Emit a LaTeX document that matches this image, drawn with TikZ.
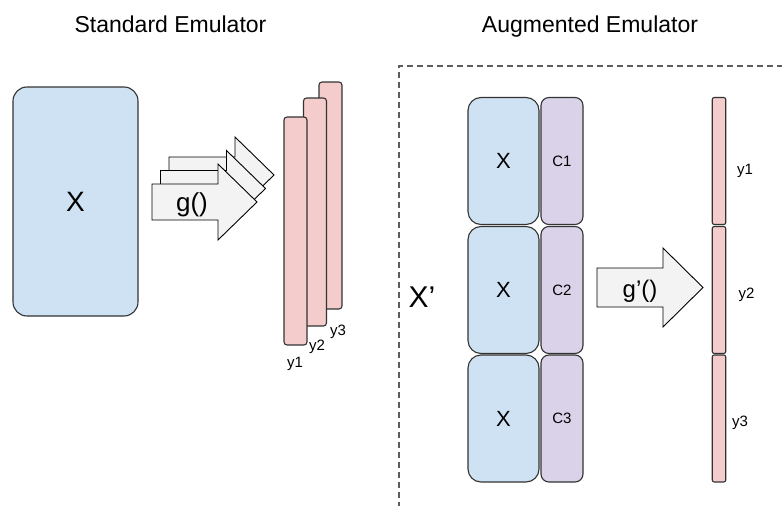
\documentclass[tikz,border=0pt]{standalone}
\usepackage{fontspec}
\setmainfont{Liberation Sans}
\definecolor{xblue}{HTML}{CFE2F3}
\definecolor{xpurple}{HTML}{D9D2E9}
\definecolor{xpink}{HTML}{F4CCCC}
\definecolor{xarrow}{HTML}{F3F3F3}
\definecolor{xline}{HTML}{333333}
\newcommand{\fs}[1]{\fontsize{#1}{#1}\selectfont}
\begin{document}
\begin{tikzpicture}[x=1pt,y=-1pt,
  every node/.style={inner sep=0pt, outer sep=0pt},
  bluebox/.style={draw=xline, fill=xblue, line width=1.1pt, rounded corners=14pt},
  cbox/.style={draw=xline, fill=xpurple, line width=1.1pt, rounded corners=8pt, minimum width=42pt, minimum height=127pt},
  pinkbar/.style={draw=xline, fill=xpink, line width=1.1pt, rounded corners=3pt},
  bigarrow/.style={draw=black, fill=xarrow, line width=0.9pt, line join=miter},
  title/.style={font=\fs{23}, anchor=base},
  ylab/.style={font=\fs{15}},
]
\useasboundingbox (0,0) rectangle (782,506);

% titles
\node[title] (t1) at (170.5,32) {Standard Emulator};
\node[title] (t2) at (590,32) {Augmented Emulator};

% dashed frame
\draw[xline!80, line width=1.2pt, dash pattern=on 6pt off 4pt] (399,508) -- (399,66) -- (784,66);

% left X box
\node[bluebox, minimum width=125pt, minimum height=229pt, font=\fs{28}] (xl) at (75.5,201.5) {X};

% stacked arrows
\foreach \k in {2,1,0}{
  \begin{scope}[shift={(152+8.5*\k,202-13.5*\k)}]
    \draw[bigarrow] (0,-18) -- (66,-18) -- (66,-38) -- (105,0) -- (66,38) -- (66,18) -- (0,18) -- cycle;
  \end{scope}
}
\node[font=\fs{26}] (g) at (192,205) {g()};

% left pink bars
\node[pinkbar, minimum width=23pt, minimum height=227pt] (y3l) at (330.5,195.5) {};
\node[pinkbar, minimum width=23pt, minimum height=228pt] (y2l) at (315,212) {};
\node[pinkbar, minimum width=23pt, minimum height=228pt] (y1l) at (295.5,231) {};
\node[ylab] (ly1) at (295,364) {y1};
\node[ylab] (ly2) at (317,347) {y2};
\node[ylab] (ly3) at (338,332) {y3};

% augmented stack
\node[font=\fs{30}] (xp) at (422,297) {X’};
\foreach \i/\cy in {1/161,2/290,3/418.5}{
  \node[bluebox, rounded corners=13pt, minimum width=71pt, minimum height=127pt, font=\fs{22}] (xa\i) at (503.5,\cy) {X};
  \node[cbox, font=\fs{15}] (c\i) at (562,\cy) {C\i};
  \node[pinkbar, rounded corners=2pt, minimum width=13.5pt, minimum height=127pt] (yr\i) at (719,\cy) {};
}
\node[ylab] (ry1) at (745,171) {y1};
\node[ylab] (ry2) at (746.5,295) {y2};
\node[ylab] (ry3) at (740,423) {y3};

% g'() arrow
\draw[bigarrow] (597,268) -- (663,268) -- (663,248) -- (703,287.5) -- (663,327) -- (663,307) -- (597,307) -- cycle;
\node[font=\fs{24}] (gp) at (640,291) {g’()};
\end{tikzpicture}
\end{document}
